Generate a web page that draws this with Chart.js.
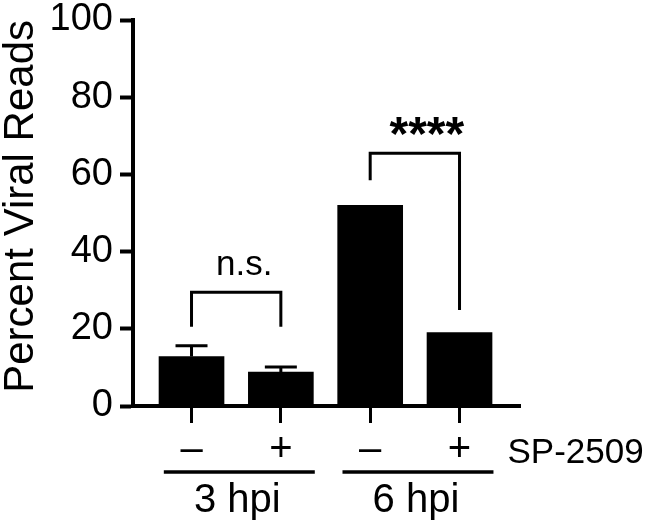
<!DOCTYPE html>
<html>
<head>
<meta charset="utf-8">
<script src="https://cdn.jsdelivr.net/npm/chart.js@4"></script>
<style>
  html, body { margin: 0; padding: 0; background: #fff; }
</style>
</head>
<body>
<canvas id="myChart" width="650" height="527"></canvas>
<script>
const positions = [1, 2, 3, 4];
const treatments = ["–", "+", "–", "+"];
const viralReads = [12.8, 8.8, 52, 19];
const errorUpper = [2.8, 1.3, 0, 0];
const groupLabels = ["3 hpi", "6 hpi"];
const groupMembers = [[0, 1], [2, 3]];
const drugLabel = "SP-2509";
const bracketLabels = ["n.s.", "****"];
const bracketPairs = [[0, 1], [2, 3]];
const bracketTop = [29.5, 65.5];
const bracketLeftEnd = [20.5, 58.5];
const bracketRightEnd = [20.5, 24.9];

const FONT = "'Liberation Sans', Arial, sans-serif";

// error bars, significance brackets and the grouping rows under the axis
const annotations = {
  id: "annotations",
  afterDraw(chart) {
    const ctx = chart.ctx;
    const xs = chart.scales.x;
    const ys = chart.scales.y;
    ctx.save();
    ctx.strokeStyle = "#000";
    ctx.fillStyle = "#000";
    ctx.lineWidth = 3;

    viralReads.forEach((v, i) => {
      if (!errorUpper[i]) return;
      const px = xs.getPixelForValue(positions[i]);
      const top = ys.getPixelForValue(v + errorUpper[i]);
      ctx.beginPath();
      ctx.moveTo(px, ys.getPixelForValue(v));
      ctx.lineTo(px, top);
      ctx.moveTo(px - 16, top);
      ctx.lineTo(px + 16, top);
      ctx.stroke();
    });

    bracketPairs.forEach((pair, i) => {
      const x1 = xs.getPixelForValue(positions[pair[0]]);
      const x2 = xs.getPixelForValue(positions[pair[1]]);
      const top = ys.getPixelForValue(bracketTop[i]);
      ctx.beginPath();
      ctx.moveTo(x1, ys.getPixelForValue(bracketLeftEnd[i]));
      ctx.lineTo(x1, top);
      ctx.lineTo(x2, top);
      ctx.lineTo(x2, ys.getPixelForValue(bracketRightEnd[i]));
      ctx.stroke();
      ctx.textAlign = "center";
      ctx.textBaseline = "alphabetic";
      if (bracketLabels[i] === "****") {
        ctx.font = "bold 48px " + FONT;
        ctx.fillText(bracketLabels[i], (x1 + x2) / 2 + 12, top - 3);
      } else {
        ctx.font = "35px " + FONT;
        ctx.fillText(bracketLabels[i], (x1 + x2) / 2 + 8, top - 17);
      }
    });

    const lineY = 472;
    groupMembers.forEach((m, g) => {
      const a = xs.getPixelForValue(positions[m[0]] - 0.31);
      const b = xs.getPixelForValue(positions[m[m.length - 1]] + 0.38);
      ctx.lineWidth = 3.5;
      ctx.beginPath();
      ctx.moveTo(a, lineY);
      ctx.lineTo(b, lineY);
      ctx.stroke();
      ctx.font = "40px " + FONT;
      ctx.textAlign = "center";
      ctx.textBaseline = "alphabetic";
      ctx.fillText(groupLabels[g], (a + b) / 2 - 2, 512);
    });

    ctx.font = "35px " + FONT;
    ctx.textAlign = "left";
    ctx.fillText(drugLabel, xs.getPixelForValue(positions[3]) + 48, 463);
    ctx.restore();
  }
};

const ctx = document.getElementById("myChart").getContext("2d");
const myChart = new Chart(ctx, {
  type: "bar",
  data: {
    datasets: [{
      data: positions.map((p, i) => ({ x: p, y: viralReads[i] })),
      backgroundColor: "#000",
      borderWidth: 0,
      barThickness: 65,
    }],
  },
  options: {
    responsive: false,
    animation: false,
    devicePixelRatio: 1,
    layout: { padding: { left: 0, right: 130, top: 20, bottom: 0 } },
    plugins: { legend: { display: false }, tooltip: { enabled: false } },
    scales: {
      x: {
        type: "linear",
        offset: false,
        min: 0.345,
        max: 4.677,
        afterBuildTicks: (s) => { s.ticks = positions.map((p) => ({ value: p })); },
        afterFit: (s) => { s.height = 121; s.paddingLeft = 0; s.paddingRight = 0; },
        grid: { drawOnChartArea: false, offset: false, tickLength: 17, tickWidth: 3, tickColor: "#000" },
        border: { display: true, width: 4, color: "#000" },
        ticks: {
          color: "#000",
          font: { family: FONT, size: 40 },
          padding: 3,
          maxRotation: 0,
          callback: (v) => treatments[positions.indexOf(v)],
        },
      },
      y: {
        min: 0,
        max: 100,
        afterFit: (s) => { s.width = 133; s.paddingTop = 0; s.paddingBottom = 0; },
        grid: { drawOnChartArea: false, tickLength: 13, tickWidth: 4, tickColor: "#000" },
        border: { display: true, width: 4, color: "#000" },
        ticks: { stepSize: 20, color: "#000", padding: 7, font: { family: FONT, size: 38 } },
        title: {
          display: true,
          text: "Percent Viral Reads",
          align: "end",
          color: "#000",
          padding: 0,
          font: { family: FONT, size: 42, lineHeight: 1 },
        },
      },
    },
  },
  plugins: [annotations],
});
</script>
</body>
</html>
